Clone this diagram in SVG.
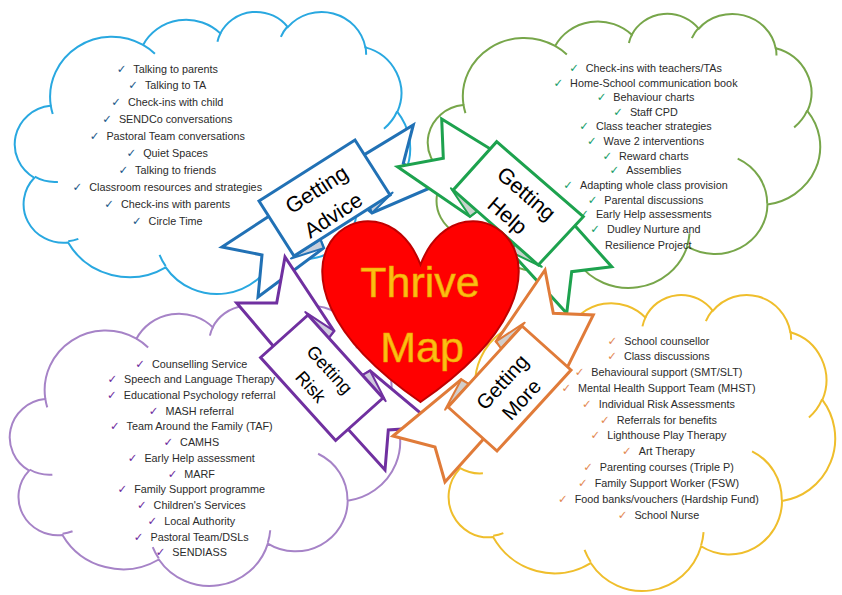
<svg xmlns="http://www.w3.org/2000/svg" xmlns:xlink="http://www.w3.org/1999/xlink" width="842" height="595" viewBox="0 0 842 595">
<defs>
<path id="cloud" vector-effect="non-scaling-stroke" d="M3900 14370 A6753 9190 0 0 1 14005 5202 A5333 7267 0 0 1 22458 3430 A4365 5945 0 0 1 29834 2477 A4857 6595 0 0 1 38319 5572 A5333 7273 0 0 1 41820 15456 A6775 9220 0 0 1 37407 30202 A5785 7867 0 0 1 28558 36812 A6752 9215 0 0 1 16484 39266 A7720 10543 0 0 1 5809 35473 A4360 5918 0 0 1 2118 25550 A4345 5945 0 0 1 3868 14507 Z"/>
<path id="cloudIn" vector-effect="non-scaling-stroke" fill="none" d="M4693 26177 A4345 5945 0 0 1 2160 25380 M6928 34899 A4360 5918 0 0 1 5820 35281 M16478 39090 A6752 9215 0 0 1 15809 37347 M28827 34751 A6752 9215 0 0 1 28561 36660 M34129 22954 A5785 7867 0 0 1 37381 30090 M41798 15354 A5333 7273 0 0 1 40350 18030 M38324 5426 A4857 6595 0 0 1 38401 6690 M29078 3952 A4857 6595 0 0 1 29820 2340 M22141 4720 A4365 5945 0 0 1 22500 3331 M14000 5192 A6753 9190 0 0 1 15302 6543 M4127 15789 A6753 9190 0 0 1 3900 14371"/>
<style>
.cl{fill:#fff;stroke-width:2}
.t{font-family:"Liberation Sans",Arial,sans-serif;font-size:10.8px;fill:#2b2b2b;text-anchor:middle}
.ck{font-family:"DejaVu Sans",sans-serif;font-size:11.5px;font-weight:bold}
.rb{fill:#fff;stroke-width:3;stroke-linejoin:miter;stroke-miterlimit:6}
.fd{stroke-width:2;stroke-linejoin:round}
.lb{font-family:"Liberation Sans",Arial,sans-serif;fill:#000;text-anchor:middle}
.hm{font-family:"Liberation Sans",Arial,sans-serif;font-size:43px;fill:#FDBE12;stroke:#E9A400;stroke-width:0.6;text-anchor:middle}
</style>
</defs>
<rect width="842" height="595" fill="#fff"/>

<g id="cloud-advice">
<g transform="translate(15,11) scale(0.0091435,0.0065278)" stroke="#29A8E0">
<use xlink:href="#cloud" class="cl"/>
<use xlink:href="#cloudIn" stroke-width="2"/>
</g>
<text class="t" x="167.3" y="72.5"><tspan class="ck" fill="#1F5C8C">✓</tspan><tspan dx="7">Talking to parents</tspan></text>
<text class="t" x="167.3" y="89.4"><tspan class="ck" fill="#1F5C8C">✓</tspan><tspan dx="7">Talking to TA</tspan></text>
<text class="t" x="167.3" y="106.3"><tspan class="ck" fill="#1F5C8C">✓</tspan><tspan dx="7">Check-ins with child</tspan></text>
<text class="t" x="167.3" y="123.2"><tspan class="ck" fill="#1F5C8C">✓</tspan><tspan dx="7">SENDCo conversations</tspan></text>
<text class="t" x="167.3" y="140.1"><tspan class="ck" fill="#1F5C8C">✓</tspan><tspan dx="7">Pastoral Team conversations</tspan></text>
<text class="t" x="167.3" y="157"><tspan class="ck" fill="#1F5C8C">✓</tspan><tspan dx="7">Quiet Spaces</tspan></text>
<text class="t" x="167.3" y="173.9"><tspan class="ck" fill="#1F5C8C">✓</tspan><tspan dx="7">Talking to friends</tspan></text>
<text class="t" x="167.3" y="190.8"><tspan class="ck" fill="#1F5C8C">✓</tspan><tspan dx="7">Classroom resources and strategies</tspan></text>
<text class="t" x="167.3" y="207.7"><tspan class="ck" fill="#1F5C8C">✓</tspan><tspan dx="7">Check-ins with parents</tspan></text>
<text class="t" x="167.3" y="224.6"><tspan class="ck" fill="#1F5C8C">✓</tspan><tspan dx="7">Circle Time</tspan></text>
</g>

<g id="cloud-help">
<g transform="translate(428,13) scale(0.0090741,0.0063426)" stroke="#77A64A">
<use xlink:href="#cloud" class="cl"/>
<use xlink:href="#cloudIn" stroke-width="2"/>
</g>
<text class="t" x="645.5" y="71.8"><tspan class="ck" fill="#22A06B">✓</tspan><tspan dx="7">Check-ins with teachers/TAs</tspan></text>
<text class="t" x="645.5" y="86.5"><tspan class="ck" fill="#22A06B">✓</tspan><tspan dx="7">Home-School communication book</tspan></text>
<text class="t" x="645.5" y="101.1"><tspan class="ck" fill="#22A06B">✓</tspan><tspan dx="7">Behaviour charts</tspan></text>
<text class="t" x="645.5" y="115.8"><tspan class="ck" fill="#22A06B">✓</tspan><tspan dx="7">Staff CPD</tspan></text>
<text class="t" x="645.5" y="130.4"><tspan class="ck" fill="#22A06B">✓</tspan><tspan dx="7">Class teacher strategies</tspan></text>
<text class="t" x="645.5" y="145.1"><tspan class="ck" fill="#22A06B">✓</tspan><tspan dx="7">Wave 2 interventions</tspan></text>
<text class="t" x="645.5" y="159.7"><tspan class="ck" fill="#22A06B">✓</tspan><tspan dx="7">Reward charts</tspan></text>
<text class="t" x="645.5" y="174.4"><tspan class="ck" fill="#22A06B">✓</tspan><tspan dx="7">Assemblies</tspan></text>
<text class="t" x="645.5" y="189"><tspan class="ck" fill="#22A06B">✓</tspan><tspan dx="7">Adapting whole class provision</tspan></text>
<text class="t" x="645.5" y="203.7"><tspan class="ck" fill="#22A06B">✓</tspan><tspan dx="7">Parental discussions</tspan></text>
<text class="t" x="645.5" y="218.3"><tspan class="ck" fill="#22A06B">✓</tspan><tspan dx="7">Early Help assessments</tspan></text>
<text class="t" x="645.5" y="233"><tspan class="ck" fill="#22A06B">✓</tspan><tspan dx="7">Dudley Nurture and</tspan></text>
<text class="t" x="605" y="248.7" style="text-anchor:start">Resilience Project</text>
</g>

<g id="cloud-risk">
<g transform="translate(10,305) scale(0.0090278,0.0064815)" stroke="#A683C7">
<use xlink:href="#cloud" class="cl"/>
<use xlink:href="#cloudIn" stroke-width="2"/>
</g>
<text class="t" x="191.3" y="367.5"><tspan class="ck" fill="#7030A0">✓</tspan><tspan dx="7">Counselling Service</tspan></text>
<text class="t" x="191.3" y="383.2"><tspan class="ck" fill="#7030A0">✓</tspan><tspan dx="7">Speech and Language Therapy</tspan></text>
<text class="t" x="191.3" y="399"><tspan class="ck" fill="#7030A0">✓</tspan><tspan dx="7">Educational Psychology referral</tspan></text>
<text class="t" x="191.3" y="414.7"><tspan class="ck" fill="#7030A0">✓</tspan><tspan dx="7">MASH referral</tspan></text>
<text class="t" x="191.3" y="430.4"><tspan class="ck" fill="#7030A0">✓</tspan><tspan dx="7">Team Around the Family (TAF)</tspan></text>
<text class="t" x="191.3" y="446.2"><tspan class="ck" fill="#7030A0">✓</tspan><tspan dx="7">CAMHS</tspan></text>
<text class="t" x="191.3" y="461.9"><tspan class="ck" fill="#7030A0">✓</tspan><tspan dx="7">Early Help assessment</tspan></text>
<text class="t" x="191.3" y="477.6"><tspan class="ck" fill="#7030A0">✓</tspan><tspan dx="7">MARF</tspan></text>
<text class="t" x="191.3" y="493.3"><tspan class="ck" fill="#7030A0">✓</tspan><tspan dx="7">Family Support programme</tspan></text>
<text class="t" x="191.3" y="509.1"><tspan class="ck" fill="#7030A0">✓</tspan><tspan dx="7">Children's Services</tspan></text>
<text class="t" x="191.3" y="524.8"><tspan class="ck" fill="#7030A0">✓</tspan><tspan dx="7">Local Authority</tspan></text>
<text class="t" x="191.3" y="540.5"><tspan class="ck" fill="#7030A0">✓</tspan><tspan dx="7">Pastoral Team/DSLs</tspan></text>
<text class="t" x="191.3" y="556.3"><tspan class="ck" fill="#7030A0">✓</tspan><tspan dx="7">SENDIASS</tspan></text>
</g>

<g id="cloud-more">
<g transform="translate(440,294) scale(0.0091435,0.0068519)" stroke="#EFBE2C">
<use xlink:href="#cloud" class="cl"/>
<use xlink:href="#cloudIn" stroke-width="2"/>
</g>
<text class="t" x="658.5" y="344.5"><tspan class="ck" fill="#E38B55">✓</tspan><tspan dx="7">School counsellor</tspan></text>
<text class="t" x="658.5" y="360.3"><tspan class="ck" fill="#E38B55">✓</tspan><tspan dx="7">Class discussions</tspan></text>
<text class="t" x="658.5" y="376.1"><tspan class="ck" fill="#E38B55">✓</tspan><tspan dx="7">Behavioural support (SMT/SLT)</tspan></text>
<text class="t" x="658.5" y="392"><tspan class="ck" fill="#E38B55">✓</tspan><tspan dx="7">Mental Health Support Team (MHST)</tspan></text>
<text class="t" x="658.5" y="407.8"><tspan class="ck" fill="#E38B55">✓</tspan><tspan dx="7">Individual Risk Assessments</tspan></text>
<text class="t" x="658.5" y="423.6"><tspan class="ck" fill="#E38B55">✓</tspan><tspan dx="7">Referrals for benefits</tspan></text>
<text class="t" x="658.5" y="439.4"><tspan class="ck" fill="#E38B55">✓</tspan><tspan dx="7">Lighthouse Play Therapy</tspan></text>
<text class="t" x="658.5" y="455.2"><tspan class="ck" fill="#E38B55">✓</tspan><tspan dx="7">Art Therapy</tspan></text>
<text class="t" x="658.5" y="471.1"><tspan class="ck" fill="#E38B55">✓</tspan><tspan dx="7">Parenting courses (Triple P)</tspan></text>
<text class="t" x="658.5" y="486.9"><tspan class="ck" fill="#E38B55">✓</tspan><tspan dx="7">Family Support Worker (FSW)</tspan></text>
<text class="t" x="658.5" y="502.7"><tspan class="ck" fill="#E38B55">✓</tspan><tspan dx="7">Food banks/vouchers (Hardship Fund)</tspan></text>
<text class="t" x="658.5" y="518.5"><tspan class="ck" fill="#E38B55">✓</tspan><tspan dx="7">School Nurse</tspan></text>
</g>

<g id="ribbon-advice" stroke="#2171B5">
<path class="rb" d="M222,247 L262,255 L258,297 L323.6,248.1 L307.7,208.9 L278.5,209.9 Z"/>
<path class="rb" d="M413.3,125 L403.3,163.3 L430,188 L372,213 L341.3,187.1 L354.1,160.9 Z"/>
<path class="fd" fill="#C7CFDC" d="M291,258.5 L323.6,248.1 L320.4,239.5 Z"/>
<path class="fd" fill="#C7CFDC" d="M392.6,192.6 L372,213 L369.9,207.3 Z"/>
<path class="rb" d="M259,201 L355,140 L390,195 L294,256 Z"/>
<text class="lb" stroke="none" font-size="21.5" transform="translate(324.5,198) rotate(-33)"><tspan x="-2" y="-4">Getting</tspan><tspan x="-2" y="26.5">Advice</tspan></text>
</g>

<g id="ribbon-help" stroke="#1DA24E">
<path class="rb" d="M441.7,119 L443.3,158.3 L397.5,166.7 L469.9,216.5 L502.9,190.3 L500.7,155.3 Z"/>
<path class="rb" d="M611.7,266.7 L571.7,271.7 L566.7,313.3 L510.7,251.9 L533.1,216.5 L566.7,216.6 Z"/>
<path class="fd" fill="#C8D3CC" d="M450.9,188.2 L469.9,216.5 L477.4,211.1 Z"/>
<path class="fd" fill="#C8D3CC" d="M541.7,266.8 L510.7,251.9 L515.2,243.9 Z"/>
<path class="rb" d="M496.7,141.7 L583.3,216.7 L538.3,265 L453.3,190 Z"/>
<text class="lb" stroke="none" font-size="21.5" transform="translate(518,203.4) rotate(40.9)"><tspan x="0" y="-5.5">Getting</tspan><tspan x="0" y="23.5">Help</tspan></text>
</g>

<g id="ribbon-risk" stroke="#7030A0">
<path class="rb" d="M285,257 L276.7,303 L236.7,303 L280.6,354.6 L308.5,363.1 L333.9,330.8 Z"/>
<path class="rb" d="M436.7,426.7 L370.1,370.8 L335.3,392.7 L341,421.4 L385,470 L388.3,430 Z"/>
<path class="fd" fill="#CFCADD" d="M305.3,312.1 L333.9,330.8 L328.7,338 Z"/>
<path class="fd" fill="#CFCADD" d="M385.7,401.1 L370.1,370.8 L362.3,375.2 Z"/>
<path class="rb" d="M308,315 L383,398 L335.6,440.5 L260.6,357.5 Z"/>
<text class="lb" stroke="none" font-size="18" transform="translate(321.9,377.9) rotate(47.9)"><tspan x="-1" y="-5">Getting</tspan><tspan x="-1" y="20.5">Risk</tspan></text>
</g>

<g id="ribbon-more" stroke="#E07B39">
<path class="rb" d="M545,270 L553.3,313.3 L593.3,315 L565.1,371.9 L522.8,373.7 L496.2,341.3 Z"/>
<path class="rb" d="M393,436 L461.1,379.7 L495.8,403.3 L490,431.8 L445,482 L435,447 Z"/>
<path class="fd" fill="#D2CECB" d="M524.7,322.7 L496.2,341.3 L501.1,348.5 Z"/>
<path class="fd" fill="#D2CECB" d="M445.1,409.7 L461.1,379.7 L468.7,383.9 Z"/>
<path class="rb" d="M448,407 L522,326 L571,370 L497,451 Z"/>
<text class="lb" stroke="none" font-size="20.5" transform="translate(509.3,388.5) rotate(-47.6)"><tspan x="0" y="-2.5">Getting</tspan><tspan x="0" y="23.5">More</tspan></text>
</g>

<g id="heart">
<path d="M420.5,264.75 C461.1,158 619.6,264.75 420.5,402 C221.4,264.75 379.9,158 420.5,264.75 Z" fill="#FF0000" stroke="#C00000" stroke-width="2"/>
<text class="hm" x="420" y="297">Thrive</text>
<text class="hm" x="422" y="362">Map</text>
</g>
</svg>
